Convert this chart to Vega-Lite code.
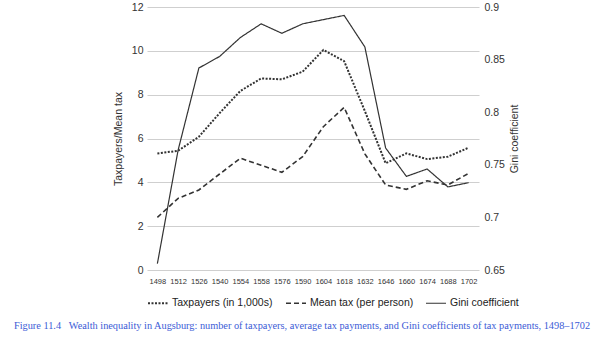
{
  "$schema": "https://vega.github.io/schema/vega-lite/v6.json",
  "width": 332,
  "height": 263,
  "autosize": "none",
  "padding": {"left": 147, "top": 7, "right": 118, "bottom": 81},
  "config": {
    "view": {"stroke": null},
    "font": "Liberation Sans",
    "axis": {"labelColor": "#333", "titleColor": "#333", "titleFontWeight": "normal", "domain": false, "ticks": false, "tickSize": 0}
  },
  "title": {
    "text": "Figure 11.4\u00a0\u00a0\u00a0Wealth inequality in Augsburg: number of taxpayers, average tax payments, and Gini coefficients of tax payments, 1498–1702",
    "orient": "bottom",
    "anchor": "middle",
    "font": "Liberation Serif",
    "fontSize": 10.3,
    "fontWeight": "normal",
    "color": "#3b5bd6",
    "offset": 12,
    "dx": -11
  },
  "data": {
    "values": [
      {"year": "1498", "series": "Taxpayers (in 1,000s)", "value": 5.32},
      {"year": "1512", "series": "Taxpayers (in 1,000s)", "value": 5.44},
      {"year": "1526", "series": "Taxpayers (in 1,000s)", "value": 6.08},
      {"year": "1540", "series": "Taxpayers (in 1,000s)", "value": 7.16},
      {"year": "1554", "series": "Taxpayers (in 1,000s)", "value": 8.17},
      {"year": "1558", "series": "Taxpayers (in 1,000s)", "value": 8.74},
      {"year": "1576", "series": "Taxpayers (in 1,000s)", "value": 8.70},
      {"year": "1590", "series": "Taxpayers (in 1,000s)", "value": 9.05},
      {"year": "1604", "series": "Taxpayers (in 1,000s)", "value": 10.04},
      {"year": "1618", "series": "Taxpayers (in 1,000s)", "value": 9.53},
      {"year": "1632", "series": "Taxpayers (in 1,000s)", "value": 7.25},
      {"year": "1646", "series": "Taxpayers (in 1,000s)", "value": 4.87},
      {"year": "1660", "series": "Taxpayers (in 1,000s)", "value": 5.32},
      {"year": "1674", "series": "Taxpayers (in 1,000s)", "value": 5.06},
      {"year": "1688", "series": "Taxpayers (in 1,000s)", "value": 5.17},
      {"year": "1702", "series": "Taxpayers (in 1,000s)", "value": 5.58},
      {"year": "1498", "series": "Mean tax (per person)", "value": 2.40},
      {"year": "1512", "series": "Mean tax (per person)", "value": 3.27},
      {"year": "1526", "series": "Mean tax (per person)", "value": 3.65},
      {"year": "1540", "series": "Mean tax (per person)", "value": 4.38},
      {"year": "1554", "series": "Mean tax (per person)", "value": 5.10},
      {"year": "1558", "series": "Mean tax (per person)", "value": 4.78},
      {"year": "1576", "series": "Mean tax (per person)", "value": 4.46},
      {"year": "1590", "series": "Mean tax (per person)", "value": 5.17},
      {"year": "1604", "series": "Mean tax (per person)", "value": 6.54},
      {"year": "1618", "series": "Mean tax (per person)", "value": 7.42},
      {"year": "1632", "series": "Mean tax (per person)", "value": 5.30},
      {"year": "1646", "series": "Mean tax (per person)", "value": 3.88},
      {"year": "1660", "series": "Mean tax (per person)", "value": 3.68},
      {"year": "1674", "series": "Mean tax (per person)", "value": 4.07},
      {"year": "1688", "series": "Mean tax (per person)", "value": 3.88},
      {"year": "1702", "series": "Mean tax (per person)", "value": 4.41},
      {"year": "1498", "series": "Gini coefficient", "value": 0.656},
      {"year": "1512", "series": "Gini coefficient", "value": 0.764},
      {"year": "1526", "series": "Gini coefficient", "value": 0.842},
      {"year": "1540", "series": "Gini coefficient", "value": 0.853},
      {"year": "1554", "series": "Gini coefficient", "value": 0.871},
      {"year": "1558", "series": "Gini coefficient", "value": 0.884},
      {"year": "1576", "series": "Gini coefficient", "value": 0.875},
      {"year": "1590", "series": "Gini coefficient", "value": 0.884},
      {"year": "1604", "series": "Gini coefficient", "value": 0.888},
      {"year": "1618", "series": "Gini coefficient", "value": 0.892},
      {"year": "1632", "series": "Gini coefficient", "value": 0.862},
      {"year": "1646", "series": "Gini coefficient", "value": 0.766},
      {"year": "1660", "series": "Gini coefficient", "value": 0.739},
      {"year": "1674", "series": "Gini coefficient", "value": 0.746},
      {"year": "1688", "series": "Gini coefficient", "value": 0.729},
      {"year": "1702", "series": "Gini coefficient", "value": 0.733}
    ]
  },
  "encoding": {
    "x": {
      "field": "year",
      "type": "ordinal",
      "sort": null,
      "scale": {"type": "point", "padding": 0.5},
      "axis": {"title": null, "labelAngle": 0, "labelFontSize": 7.5, "labelPadding": 7, "grid": false}
    },
    "strokeDash": {
      "field": "series",
      "type": "nominal",
      "scale": {
        "domain": ["Taxpayers (in 1,000s)", "Mean tax (per person)", "Gini coefficient"],
        "range": [[2, 1.5], [5, 3], [1, 0]]
      },
      "legend": {
        "title": null,
        "orient": "bottom",
        "direction": "horizontal",
        "symbolType": "stroke",
        "symbolSize": 400,
        "symbolStrokeColor": "#333",
        "labelFontSize": 10.5,
        "labelColor": "#222",
        "columnPadding": 9,
        "labelOffset": 3,
        "offset": 7
      }
    },
    "strokeWidth": {
      "field": "series",
      "type": "nominal",
      "scale": {
        "domain": ["Taxpayers (in 1,000s)", "Mean tax (per person)", "Gini coefficient"],
        "range": [2, 1.2, 1.2]
      },
      "legend": null
    }
  },
  "layer": [
    {
      "transform": [{"filter": "datum.series !== 'Gini coefficient'"}],
      "mark": {"type": "line", "color": "#333"},
      "encoding": {
        "y": {
          "field": "value",
          "type": "quantitative",
          "scale": {"domain": [0, 12]},
          "axis": {
            "title": "Taxpayers/Mean tax",
            "values": [0, 2, 4, 6, 8, 10, 12],
            "grid": true,
            "gridColor": "#cfcfcf",
            "labelFontSize": 10.5,
            "labelPadding": 4,
            "titleFontSize": 10.5,
            "titlePadding": 8
          }
        }
      }
    },
    {
      "transform": [{"filter": "datum.series === 'Gini coefficient'"}],
      "mark": {"type": "line", "color": "#333"},
      "encoding": {
        "y": {
          "field": "value",
          "type": "quantitative",
          "scale": {"domain": [0.65, 0.9]},
          "axis": {
            "orient": "right",
            "title": "Gini coefficient",
            "titleAngle": -90,
            "values": [0.65, 0.7, 0.75, 0.8, 0.85, 0.9],
            "format": "~g",
            "grid": false,
            "labelFontSize": 10.5,
            "labelPadding": 5,
            "titleFontSize": 10.5,
            "titlePadding": 15
          }
        }
      }
    }
  ],
  "resolve": {"scale": {"y": "independent"}}
}
